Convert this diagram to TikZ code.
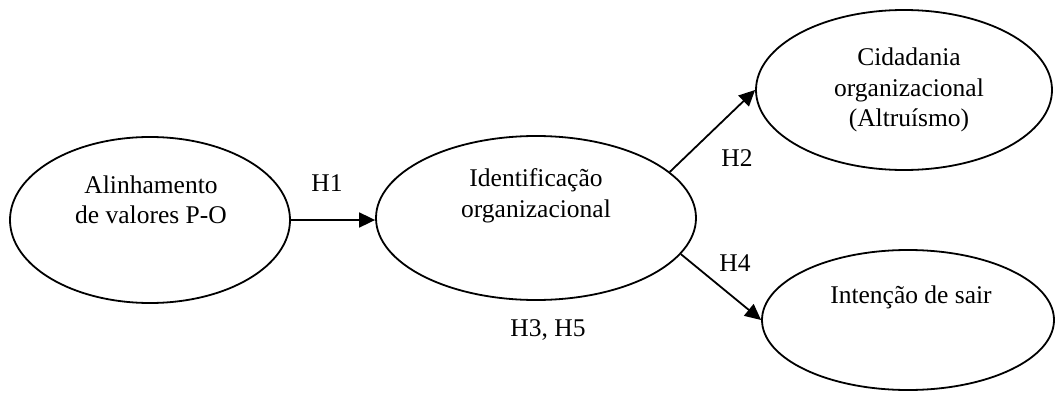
\documentclass[tikz,border=0pt]{standalone}
\usepackage{fontspec}
\setmainfont{Liberation Serif}
\usetikzlibrary{shapes.geometric,arrows.meta}
\begin{document}
\begin{tikzpicture}[x=1pt,y=1pt,
  oval/.style={draw,ellipse,line width=1.8pt,inner sep=0pt},
  txt/.style={align=center,font=\fontsize{25.5}{30.5}\selectfont,inner sep=0pt},
  conn/.style={line width=1.8pt,-{Triangle[length=16pt,width=15pt]}}]
\useasboundingbox (0,0) rectangle (1055,392);
\node[oval,minimum width=280pt,minimum height=166pt] (left) at (150,172) {};
\node[oval,minimum width=320pt,minimum height=164pt] (mid) at (536,174) {};
\node[oval,minimum width=296pt,minimum height=160pt] (tr) at (904,302) {};
\node[oval,minimum width=292pt,minimum height=140pt] (br) at (908,72) {};
\node[txt] (lefttxt) at (151,192) {Alinhamento\\de valores P-O};
\node[txt] (midtxt) at (536,196) {Identificação\\organizacional};
\node[txt] (trtxt) at (909,302) {Cidadania\\organizacional\\(Altruísmo)};
\node[txt] (brtxt) at (911,95) {Intenção de sair};
\draw[conn] (left.east) -- (left.east -| mid.west);
\draw[conn] (mid.19) -- (tr.west);
\draw[conn] (mid.-14) -- (br.west);
\node[txt] (h1) at (327,209) {H1};
\node[txt] (h2) at (737,234) {H2};
\node[txt] (h4) at (735,129) {H4};
\node[txt] (h35) at (548,62) {H3, H5};
\end{tikzpicture}
\end{document}
